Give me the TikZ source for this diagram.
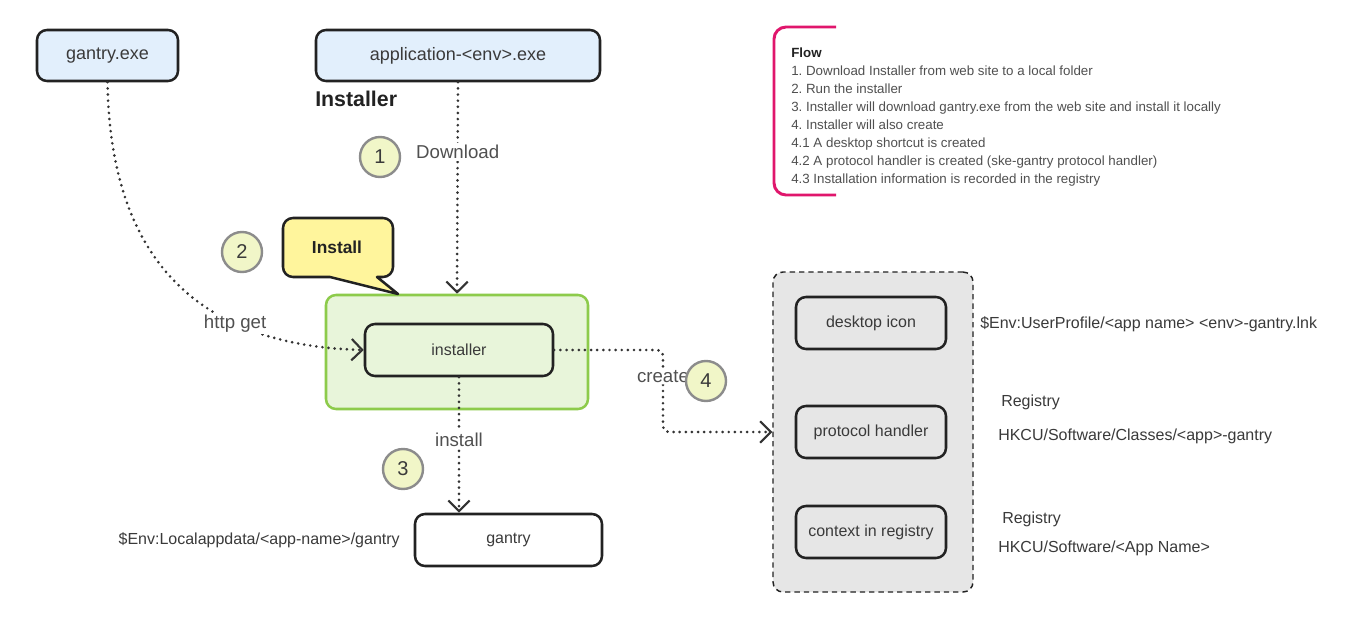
\documentclass[tikz,border=0pt]{standalone}
\usepackage{fontspec}
\setmainfont{Liberation Sans}
\usetikzlibrary{arrows.meta,fit,calc}
\definecolor{boxline}{HTML}{222222}
\definecolor{bluefill}{HTML}{E2EFFC}
\definecolor{greenfill}{HTML}{E8F5DA}
\definecolor{greenline}{HTML}{8DCB4B}
\definecolor{numfill}{HTML}{F1F6C8}
\definecolor{numline}{HTML}{8C8C8C}
\definecolor{callfill}{HTML}{FFF59C}
\definecolor{greyfill}{HTML}{E6E6E6}
\definecolor{pinkline}{HTML}{E0166C}
\definecolor{txt}{HTML}{3A3A3A}
\definecolor{lighttxt}{HTML}{505050}
\definecolor{conn}{HTML}{333333}
\tikzset{
  box/.style={draw=boxline, line width=1.9pt, rounded corners=7.5pt, inner sep=0pt,
    text=txt, font=\fontsize{12}{14}\selectfont},
  topbox/.style={box, fill=bluefill, font=\fontsize{13.5}{15}\selectfont},
  numc/.style={circle, draw=numline, fill=numfill, line width=1.8pt, minimum size=30pt,
    inner sep=0pt, text=txt, font=\fontsize{15}{15}\selectfont},
  dotconn/.style={draw=conn, line width=2.2pt, line cap=round, dash pattern=on 0pt off 4.6pt,
    -{Straight Barb[length=8pt,width=16pt,line width=1.6pt]}},
  lbl/.style={fill=white, inner sep=1.5pt, text=lighttxt, font=\fontsize{14}{16}\selectfont},
  note/.style={inner sep=0pt, text=txt, font=\fontsize{12}{14}\selectfont},
}
\begin{document}
\frenchspacing
\begin{tikzpicture}[x=0.75pt,y=-0.75pt]
\useasboundingbox[fill=white] (0,0) rectangle (1361,639);

% top boxes
\node[topbox, minimum width=105.75pt, minimum height=38.25pt] (gexe) at (107.5,55.5) {gantry.exe};
\node[topbox, minimum width=213pt, minimum height=38.25pt] (aexe) at (458,55.5) {application-<env>.exe};
\node[anchor=west, inner sep=0pt, text=boxline, font=\fontsize{16}{18}\bfseries] (insttitle) at (315,99) {Installer};

% green installer group
\node[draw=greenline, fill=greenfill, line width=1.9pt, rounded corners=7.5pt,
      minimum width=196.5pt, minimum height=85.5pt] (grp) at (457,352) {};
\node[box, minimum width=141pt, minimum height=39pt] (inst) at (459,350) {installer};

% gantry target
\node[box, fill=white, minimum width=140.25pt, minimum height=39pt] (gantry) at (508.5,540) {gantry};
\node[note, anchor=east] (lapp) at (400,540) {\$Env:Localappdata/<app-name>/gantry};

% grey container
\node[draw=boxline, fill=greyfill, line width=1.1pt, dash pattern=on 4pt off 3pt, rounded corners=7.5pt,
      minimum width=150pt, minimum height=240pt] (cont) at (873,432) {};
\node[box, minimum width=112.5pt, minimum height=39pt] (desk) at (871,323) {desktop icon};
\node[box, minimum width=112.5pt, minimum height=39pt] (proto) at (871,432) {protocol handler};
\node[box, minimum width=112.5pt, minimum height=39pt] (ctx) at (871,532) {context in registry};

% right notes
\node[note, anchor=west] (n1) at (980,324) {\$Env:UserProfile/<app name> <env>-gantry.lnk};
\node[note, anchor=west] (n2) at (1001,402) {Registry};
\node[note, anchor=west] (n3) at (998,436) {HKCU/Software/Classes/<app>-gantry};
\node[note, anchor=west] (n4) at (1002,519) {Registry};
\node[note, anchor=west] (n5) at (998,548) {HKCU/Software/<App Name>};

% callout
\draw[draw=boxline, fill=callfill, line width=1.9pt, line join=round]
  (330,277) -- (398,294) -- (377,277) -- (383,277) arc[start angle=90, end angle=0, radius=10]
  -- (393,228) arc[start angle=0, end angle=-90, radius=10] -- (293,218)
  arc[start angle=270, end angle=180, radius=10] -- (283,267)
  arc[start angle=180, end angle=90, radius=10] -- cycle;
\node[inner sep=0pt, text=boxline, font=\fontsize{13}{15}\bfseries] (calltxt) at (337,247) {Install};

% connectors
\draw[dotconn] (aexe.south) -- node[lbl, pos=0.33] {Download} (grp.north);
\draw[dotconn] (gexe.south) .. controls (110,240) and (180,345) .. node[lbl, pos=0.72] {http get} (inst.west);
\draw[dotconn, rounded corners=4pt] (inst.east) -- (663,350) -- node[lbl, pos=0.32] {create} (663,432) -- (cont.west);
\draw[dotconn] (inst.south) -- node[lbl, pos=0.46] {install} (inst.south |- gantry.north);

% numbers
\node[numc] (c1) at (380,157) {1};
\node[numc] (c2) at (242,252) {2};
\node[numc] (c3) at (403,469) {3};
\node[numc] (c4) at (706,381) {4};

% flow note
\draw[pinkline, line width=2.2pt, rounded corners=9pt] (836,27) -- (774,27) -- (774,195) -- (836,195);
\node[anchor=north west, inner sep=0pt, align=left, text=lighttxt, font=\fontsize{10}{13.5}\selectfont] (flow) at (791,48)
  {{\bfseries\color{boxline}Flow}\\
   1. Download Installer from web site to a local folder\\
   2. Run the installer\\
   3. Installer will download gantry.exe from the web site and install it locally\\
   4. Installer will also create\\
   4.1 A desktop shortcut is created\\
   4.2 A protocol handler is created (ske-gantry protocol handler)\\
   4.3 Installation information is recorded in the registry};
\end{tikzpicture}
\end{document}
